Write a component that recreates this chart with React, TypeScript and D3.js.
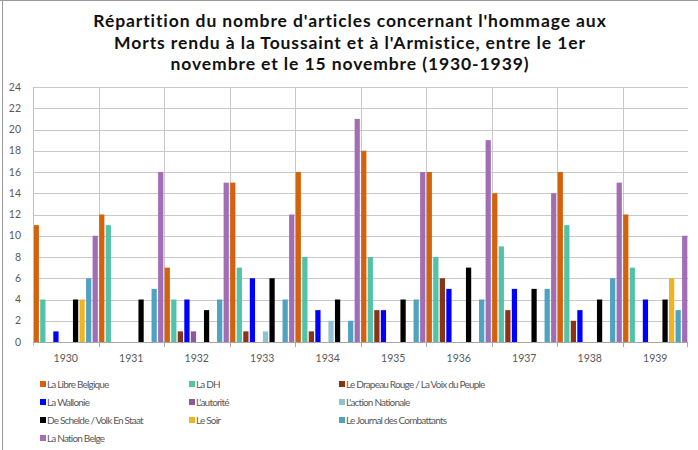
import { useEffect, useRef } from "react";
import * as d3 from "d3";

const years = ["1930", "1931", "1932", "1933", "1934", "1935", "1936", "1937", "1938", "1939"];

const seriesNames = [
  "La Libre Belgique",
  "La DH",
  "Le Drapeau Rouge / La Voix du Peuple",
  "La Wallonie",
  "L'autorité",
  "L'action Nationale",
  "De Schelde / Volk En Staat",
  "Le Soir",
  "Le Journal des Combattants",
  "La Nation Belge",
];

const seriesColors = [
  "#d4620a",
  "#52c3a8",
  "#8b3316",
  "#0000ff",
  "#8c5a9c",
  "#93c1d4",
  "#000000",
  "#f0b321",
  "#4fa3c2",
  "#a36db6",
];

// one array per newspaper, one value per year
const libreBelgique = [11, 12, 7, 15, 16, 18, 16, 14, 16, 12];
const laDH = [4, 11, 4, 7, 8, 8, 8, 9, 11, 7];
const drapeauRouge = [0, 0, 1, 1, 1, 3, 6, 3, 2, 0];
const laWallonie = [1, 0, 4, 6, 3, 3, 5, 5, 3, 4];
const lAutorite = [0, 0, 1, 0, 0, 0, 0, 0, 0, 0];
const actionNationale = [0, 0, 0, 1, 2, 0, 0, 0, 0, 0];
const deSchelde = [4, 4, 3, 6, 4, 4, 7, 5, 4, 4];
const leSoir = [4, 0, 0, 0, 0, 0, 0, 0, 0, 6];
const journalCombattants = [6, 5, 4, 4, 2, 4, 4, 5, 6, 3];
const nationBelge = [10, 16, 15, 12, 21, 16, 19, 14, 15, 10];

const seriesValues = [
  libreBelgique, laDH, drapeauRouge, laWallonie, lAutorite,
  actionNationale, deSchelde, leSoir, journalCombattants, nationBelge,
];

const yTicks = d3.range(0, 25, 2);

const titleLines = [
  "Répartition du nombre d'articles concernant l'hommage aux",
  "Morts rendu à la Toussaint et à l'Armistice, entre le 1er",
  "novembre et le 15 novembre (1930-1939)",
];

const W = 698;
const H = 450;
const FONT = "'Lato', 'DejaVu Sans', sans-serif";

export default function App() {
  const ref = useRef<SVGSVGElement | null>(null);

  useEffect(() => {
    if (!ref.current) return;
    const svg = d3.select(ref.current);
    svg.selectAll("*").remove();

    const left = 33, right = 688, top = 87, bottom = 342;

    const x0 = d3.scaleBand<string>().domain(years).range([left, right]).padding(0);
    const x1 = d3.scaleBand<number>().domain(d3.range(seriesNames.length)).range([0, x0.bandwidth()]).paddingInner(0.2).paddingOuter(0.1);
    const y = d3.scaleLinear().domain([0, 24]).range([bottom, top]);

    svg.append("rect").attr("width", W).attr("height", H).attr("fill", "white");
    // frame (top + left visible)
    svg.append("line").attr("x1", 0).attr("x2", W).attr("y1", 0.5).attr("y2", 0.5).attr("stroke", "#9a9a9a");
    svg.append("line").attr("x1", 2.5).attr("x2", 2.5).attr("y1", 0).attr("y2", H).attr("stroke", "#9a9a9a");

    // title
    svg.append("g")
      .selectAll("text")
      .data(titleLines)
      .enter()
      .append("text")
      .attr("x", 350)
      .attr("y", (_, i) => 27 + i * 21.5)
      .attr("text-anchor", "middle")
      .style("font-family", FONT)
      .style("font-size", "17.5px")
      .style("font-weight", 700)
      .style("letter-spacing", "0.9px")
      .attr("fill", "#111")
      .text((d) => d);

    // grid
    svg.append("g")
      .selectAll("line")
      .data(yTicks.slice(1))
      .enter()
      .append("line")
      .attr("x1", left).attr("x2", right)
      .attr("y1", (d) => Math.round(y(d)) + 0.5).attr("y2", (d) => Math.round(y(d)) + 0.5)
      .attr("stroke", "#c8c8c8");

    svg.append("g")
      .selectAll("line")
      .data(years.slice(1))
      .enter()
      .append("line")
      .attr("x1", (d) => Math.round(x0(d)!) + 0.5).attr("x2", (d) => Math.round(x0(d)!) + 0.5)
      .attr("y1", top).attr("y2", bottom)
      .attr("stroke", "#c8c8c8");

    // y labels
    svg.append("g")
      .selectAll("text")
      .data(yTicks)
      .enter()
      .append("text")
      .attr("x", 21)
      .attr("y", (d) => y(d))
      .attr("dy", "0.35em")
      .attr("text-anchor", "end")
      .style("font-family", FONT)
      .style("font-size", "10.5px")
      .attr("fill", "#595959")
      .text((d) => d);

    // bars
    const groups = svg.append("g")
      .selectAll("g")
      .data(years)
      .enter()
      .append("g")
      .attr("transform", (d) => `translate(${x0(d)},0)`);

    groups.selectAll("rect")
      .data((_, yi) => seriesValues.map((vals, si) => ({ si, v: vals[yi] })))
      .enter()
      .append("rect")
      .attr("x", (d) => x1(d.si)!)
      .attr("width", x1.bandwidth())
      .attr("y", (d) => y(d.v))
      .attr("height", (d) => y(0) - y(d.v))
      .attr("fill", (d) => seriesColors[d.si]);

    // axes lines
    svg.append("line").attr("x1", left + 0.5).attr("x2", left + 0.5).attr("y1", top).attr("y2", bottom + 4).attr("stroke", "#bfbfbf");
    svg.append("line").attr("x1", left).attr("x2", right).attr("y1", bottom + 0.5).attr("y2", bottom + 0.5).attr("stroke", "#a6a6a6");
    svg.append("g")
      .selectAll("line")
      .data([...years.slice(1), "end"])
      .enter()
      .append("line")
      .attr("x1", (d) => (d === "end" ? right - 0.5 : Math.round(x0(d)!) + 0.5))
      .attr("x2", (d) => (d === "end" ? right - 0.5 : Math.round(x0(d)!) + 0.5))
      .attr("y1", bottom).attr("y2", bottom + 5)
      .attr("stroke", "#a6a6a6");

    svg.append("g")
      .selectAll("text")
      .data(years)
      .enter()
      .append("text")
      .attr("x", (d) => x0(d)! + x0.bandwidth() / 2)
      .attr("y", 358)
      .attr("dy", "0.35em")
      .attr("text-anchor", "middle")
      .style("font-family", FONT)
      .style("font-size", "10.5px")
      .attr("fill", "#595959")
      .text((d) => d);

    // legend
    const colX = [40, 189, 339];
    const rowY = [384, 402, 420, 438];
    const leg = svg.append("g")
      .selectAll("g")
      .data(seriesNames)
      .enter()
      .append("g")
      .attr("transform", (_, i) => `translate(${colX[i % 3]},${rowY[Math.floor(i / 3)]})`);
    leg.append("rect").attr("x", 0).attr("y", -3).attr("width", 6).attr("height", 6).attr("fill", (_, i) => seriesColors[i]);
    leg.append("text")
      .attr("x", 7)
      .attr("y", 0)
      .attr("dy", "0.35em")
      .style("font-family", FONT)
      .style("font-size", "10px")
      .style("letter-spacing", "-0.8px")
      .attr("fill", "#595959")
      .text((d) => d);
  }, []);

  return (
    <svg
      ref={ref}
      width={W}
      height={H}
      style={{ position: "absolute", left: 0, top: 0 }}
    />
  );
}
